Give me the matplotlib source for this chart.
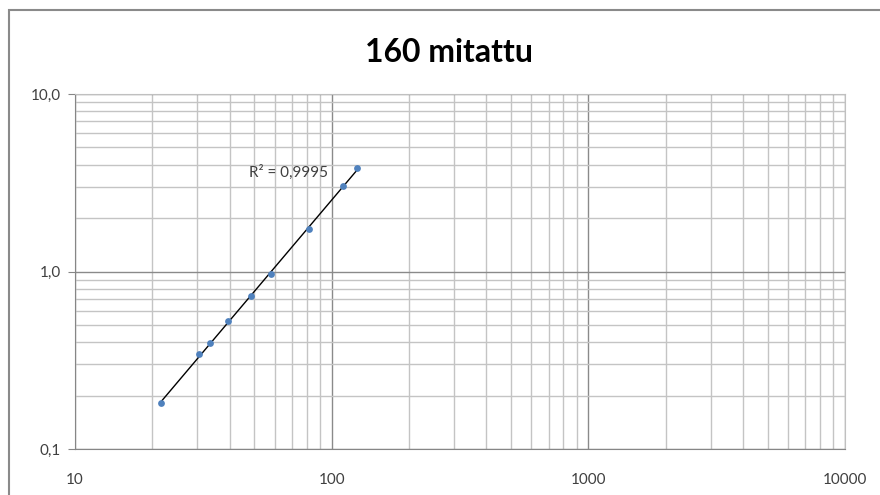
import numpy as np
import matplotlib
matplotlib.use("Agg")
import matplotlib.pyplot as plt
from matplotlib.patches import Rectangle
from matplotlib.ticker import FixedLocator, FixedFormatter, NullFormatter

# Data
x_vals = [21.6, 30.4, 33.7, 39.6, 48.3, 58.1, 81.9, 111.0, 125.0]
y_vals = [0.181, 0.341, 0.396, 0.526, 0.729, 0.97, 1.73, 3.02, 3.82]
title = "160 mitattu"
r2_text = "R² = 0,9995"
x_ticks = [10, 100, 1000, 10000]
x_ticklabels = ["10", "100", "1000", "10000"]
y_ticks = [0.1, 1, 10]
y_ticklabels = ["0,1", "1,0", "10,0"]

plt.rcParams['font.family'] = ['Lato', 'DejaVu Sans']

fig = plt.figure(figsize=(8.8, 4.95), dpi=100)
ax = fig.add_axes([75/880, 1-449/495, (845-75)/880, (449-94)/495])

ax.set_xscale('log')
ax.set_yscale('log')
ax.set_xlim(10, 10000)
ax.set_ylim(0.1, 10)

# Grid
minor_x = [m * 10**e for e in range(1, 4) for m in range(2, 10)]
minor_y = [m * 10**e for e in range(-1, 1) for m in range(2, 10)]
ax.xaxis.set_major_locator(FixedLocator(x_ticks))
ax.xaxis.set_major_formatter(FixedFormatter(x_ticklabels))
ax.yaxis.set_major_locator(FixedLocator(y_ticks))
ax.yaxis.set_major_formatter(FixedFormatter(y_ticklabels))
ax.xaxis.set_minor_locator(FixedLocator(minor_x))
ax.yaxis.set_minor_locator(FixedLocator(minor_y))
ax.xaxis.set_minor_formatter(NullFormatter())
ax.yaxis.set_minor_formatter(NullFormatter())

ax.grid(True, which='major', color='#8a8a8a', lw=1.0)
ax.grid(True, which='minor', color='#c4c4c4', lw=1.0)
ax.set_axisbelow(True)

for s in ['top', 'right']:
    ax.spines[s].set_color('#c0c0c0')
for s in ['left', 'bottom']:
    ax.spines[s].set_color('#868686')

ax.tick_params(axis='y', which='major', length=5, color='#868686', pad=5,
               labelsize=11, labelcolor='#404040')
ax.tick_params(axis='y', which='minor', length=0)
ax.tick_params(axis='x', which='both', length=0, pad=17,
               labelsize=11, labelcolor='#404040')

# Power trendline fitted in log space
lx = np.log10(x_vals)
ly = np.log10(y_vals)
b, a = np.polyfit(lx, ly, 1)
xt = np.array([min(x_vals), max(x_vals)])
yt = 10**(a + b*np.log10(xt))
ax.plot(xt, yt, color='black', lw=1.0, zorder=3)

ax.scatter(x_vals, y_vals, s=24, color='#4f81bd', zorder=4, linewidths=0)

ax.text(47.5, 3.63, r2_text, fontsize=11, color='#404040', va='center', ha='left')

fig.text(449/880, 1-53/495, title, fontsize=23, fontweight='bold',
         ha='center', va='center', color='black')

# outer chart border
fig.patches.append(Rectangle((9/880, -0.05), 1.2, 1-10/495+0.05,
                             transform=fig.transFigure, fill=False,
                             edgecolor='#8a8a8a', lw=1.5))

fig.savefig('out.png', dpi=100)
